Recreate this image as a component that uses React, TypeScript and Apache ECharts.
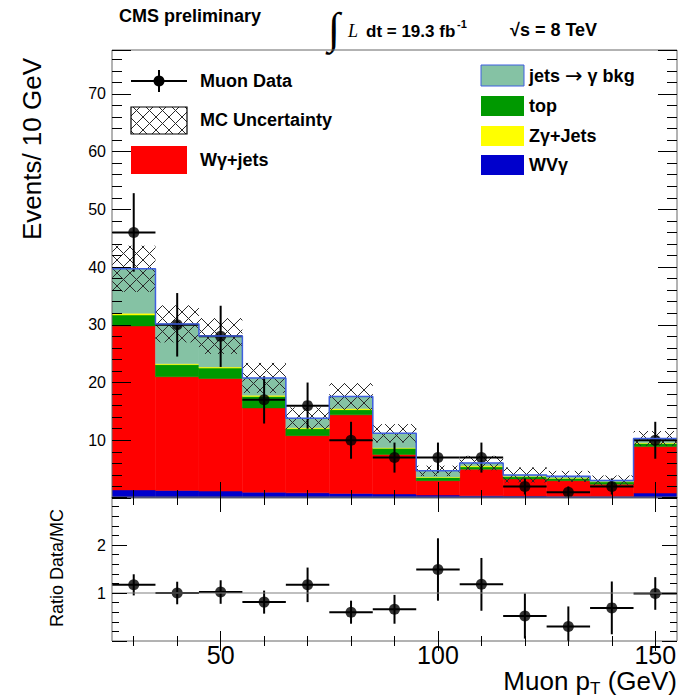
import React, { useEffect, useRef } from 'react';
import * as echarts from 'echarts';

const FONT = "'Liberation Sans', Arial, Helvetica, sans-serif";
const SERIF = "'Liberation Serif', 'Times New Roman', serif";
const SYMBOL_FONT = "'DejaVu Sans', sans-serif";

// ---- data ----
const binCenters = [30, 40, 50, 60, 70, 80, 90, 100, 110, 120, 130, 140, 150];
const binHalfWidth = 5;
const wvgamma = [1.4, 1.3, 1.2, 1.0, 0.9, 0.8, 0.7, 0.5, 0.4, 0.35, 0.3, 0.3, 0.85];
const wgammaJets = [28.4, 19.7, 19.5, 14.6, 9.9, 13.6, 6.85, 2.5, 4.6, 2.95, 2.7, 2.1, 8.05];
const topQuark = [1.9, 2.1, 1.8, 2.0, 1.2, 0.9, 1.05, 0.55, 0.4, 0.4, 0.4, 0.4, 0.55];
const zgammaJets = [0.3, 0.15, 0.2, 0.2, 0.15, 0.2, 0.1, 0.1, 0.2, 0.05, 0.05, 0.05, 0.1];
const jetsFakeBkg = [7.7, 6.9, 5.35, 3.0, 1.65, 2.1, 2.5, 1.05, 0.45, 0.25, 0.3, 0.2, 0.75];
const mcUncertainty = [4.0, 3.2, 3.1, 2.6, 1.9, 2.3, 1.6, 0.9, 1.25, 1.3, 0.95, 0.85, 1.3];
const muonData = [46, 30, 28, 17, 16, 10, 7, 7, 7, 2, 1, 2, 10];
const muonDataErr = [6.8, 5.5, 5.3, 4.1, 4.0, 3.2, 2.6, 2.6, 2.6, 1.4, 1.0, 1.4, 3.2];
const ratioValues = [1.17, 1.0, 1.02, 0.81, 1.17, 0.6, 0.66, 1.49, 1.18, 0.52, 0.3, 0.69, 0.99];
const ratioErr = [0.22, 0.235, 0.245, 0.24, 0.36, 0.24, 0.3, 0.65, 0.55, 0.47, 0.42, 0.55, 0.34];
const xTickLabels = [50, 100, 150];
const xMinorTicks = [30, 40, 50, 60, 70, 80, 90, 100, 110, 120, 130, 140, 150];
const mainYLabels = [10, 20, 30, 40, 50, 60, 70];
const ratioYLabels = [1, 2];

const X_MIN = 25;
const X_MAX = 155;
const Y_MAX = 77.6;
const R_MAX = 3;

const COLORS = {
  wvg: '#0000cc',
  wgj: '#ff0000',
  top: '#009900',
  zg: '#ffff00',
  jets: '#85c2a4',
  jetsLine: '#3f5fe0',
};

function hatchLines(x0: number, y0: number, x1: number, y1: number, s: number, style: any) {
  const out: any[] = [];
  for (let c = Math.floor((y0 - x1) / s) * s; c <= y1 - x0; c += s) {
    const xa = Math.max(x0, y0 - c);
    const xb = Math.min(x1, y1 - c);
    if (xb - xa > 0.5) out.push({ type: 'line', shape: { x1: xa, y1: xa + c, x2: xb, y2: xb + c }, style });
  }
  for (let c = Math.floor((x0 + y0) / s) * s; c <= x1 + y1; c += s) {
    const xa = Math.max(x0, c - y1);
    const xb = Math.min(x1, c - y0);
    if (xb - xa > 0.5) out.push({ type: 'line', shape: { x1: xa, y1: c - xa, x2: xb, y2: c - xb }, style });
  }
  return out;
}

const HATCH_STYLE = { stroke: '#2a2a2a', lineWidth: 1 };

export default function App() {
  const ref = useRef<HTMLDivElement>(null);

  useEffect(() => {
    document.body.style.margin = '0';
    const chart = echarts.init(ref.current!, null, { renderer: 'svg' });

    const components = [
      { values: wvgamma, color: COLORS.wvg },
      { values: wgammaJets, color: COLORS.wgj },
      { values: topQuark, color: COLORS.top },
      { values: zgammaJets, color: COLORS.zg },
      { values: jetsFakeBkg, color: COLORS.jets },
    ];
    const cum = binCenters.map(() => 0);
    const stackSeries: any[] = components.map((c) => {
      const data = binCenters.map((x, i) => {
        const lo = cum[i];
        cum[i] += c.values[i];
        return [x - binHalfWidth, x + binHalfWidth, lo, cum[i]];
      });
      return {
        type: 'custom',
        xAxisIndex: 0,
        yAxisIndex: 0,
        clip: true,
        silent: true,
        encode: { x: [0, 1], y: [2, 3] },
        data,
        renderItem: (params: any, api: any) => {
          const a = api.coord([api.value(0), api.value(3)]);
          const b = api.coord([api.value(1), api.value(2)]);
          return {
            type: 'rect',
            shape: { x: a[0], y: a[1], width: b[0] - a[0], height: b[1] - a[1] },
            style: { fill: c.color, stroke: c.color, lineWidth: 0.5 },
          };
        },
      };
    });
    const totals = cum.slice();

    const outline = binCenters.map((x, i) => [x - binHalfWidth, totals[i]]);
    outline.push([binCenters[binCenters.length - 1] + binHalfWidth, totals[totals.length - 1]]);

    const hatchData = binCenters.map((x, i) => [
      x - binHalfWidth,
      x + binHalfWidth,
      totals[i] - mcUncertainty[i],
      totals[i] + mcUncertainty[i],
    ]);

    const errRender = (params: any, api: any) => {
      const x = api.value(0);
      const y = api.value(1);
      const e = api.value(2);
      const hw = api.value(3);
      const l = api.coord([x - hw, y]);
      const r = api.coord([x + hw, y]);
      const t = api.coord([x, y + e]);
      const b = api.coord([x, y - e]);
      const st = { stroke: '#000', lineWidth: 2 };
      return {
        type: 'group',
        children: [
          { type: 'line', shape: { x1: l[0], y1: l[1], x2: r[0], y2: r[1] }, style: st },
          { type: 'line', shape: { x1: t[0], y1: t[1], x2: b[0], y2: b[1] }, style: st },
        ],
      };
    };

    const dataErr = binCenters.map((x, i) => [x, muonData[i], muonDataErr[i], binHalfWidth]);
    const dataPts = binCenters.map((x, i) => [x, muonData[i]]);
    const ratioErrData = binCenters.map((x, i) => [x, ratioValues[i], ratioErr[i], binHalfWidth]);
    const ratioPts = binCenters.map((x, i) => [x, ratioValues[i]]);

    const tickStyle = { color: '#000', width: 1 };
    const xAx = (gridIndex: number, position: string, ticks: number[], len: number, labels: boolean) => ({
      type: 'value',
      gridIndex,
      position,
      min: X_MIN,
      max: X_MAX,
      z: 10,
      axisLine: { show: false },
      splitLine: { show: false },
      axisTick: { show: true, inside: true, length: len, customValues: ticks, lineStyle: tickStyle },
      axisLabel: labels
        ? { show: true, customValues: xTickLabels, fontSize: 25, fontFamily: FONT, color: '#000', margin: 1 }
        : { show: false },
    });
    const yAx = (
      gridIndex: number,
      position: string,
      max: number,
      interval: number,
      len: number,
      labelVals: number[] | null,
    ) => ({
      type: 'value',
      gridIndex,
      position,
      min: 0,
      max,
      interval,
      z: 10,
      axisLine: { show: false },
      splitLine: { show: false },
      axisTick: { show: true, inside: true, length: len, lineStyle: tickStyle },
      axisLabel: labelVals
        ? {
            show: true,
            fontSize: 16,
            fontFamily: FONT,
            color: '#000',
            margin: 6,
            formatter: (v: number) => (labelVals.some((u) => Math.abs(u - v) < 1e-6) ? String(v) : ''),
          }
        : { show: false },
    });

    const legendStyle = (t: string) => ({
      text: t,
      fontFamily: FONT,
      fontWeight: 'bold',
      fontSize: 18,
      fill: '#000',
      align: 'left',
      verticalAlign: 'middle',
    });

    const graphics: any[] = [
      // header
      { type: 'text', x: 119, y: 16, style: { ...legendStyle('CMS preliminary') } },
      {
        type: 'text',
        x: 328,
        y: 28,
        style: { text: '∫', fontFamily: SERIF, fontSize: 44, fill: '#000', align: 'left', verticalAlign: 'middle' },
      },
      {
        type: 'text',
        x: 348,
        y: 31,
        style: { text: 'L', fontFamily: SERIF, fontStyle: 'italic', fontSize: 18, fill: '#000', align: 'left', verticalAlign: 'middle' },
      },
      { type: 'text', x: 366, y: 31, style: { ...legendStyle('dt = 19.3 fb'), fontSize: 17 } },
      {
        type: 'text',
        x: 457,
        y: 24,
        style: { text: '-1', fontFamily: FONT, fontWeight: 'bold', fontSize: 11, fill: '#000', align: 'left', verticalAlign: 'middle' },
      },
      { type: 'text', x: 510, y: 30, style: { ...legendStyle('√s = 8 TeV') } },
      // legend left
      { type: 'line', shape: { x1: 131, y1: 81, x2: 187, y2: 81 }, style: { stroke: '#000', lineWidth: 2 } },
      { type: 'line', shape: { x1: 159, y1: 70, x2: 159, y2: 92 }, style: { stroke: '#000', lineWidth: 2 } },
      { type: 'circle', shape: { cx: 159, cy: 81, r: 5.5 }, style: { fill: '#000' } },
      { type: 'text', x: 200, y: 81, style: legendStyle('Muon Data') },
      {
        type: 'group',
        children: [
          ...hatchLines(131, 107, 187, 134, 13, HATCH_STYLE),
          { type: 'rect', shape: { x: 131, y: 107, width: 56, height: 27 }, style: { fill: 'none', stroke: '#000', lineWidth: 1.2 } },
        ],
      },
      { type: 'text', x: 200, y: 120, style: legendStyle('MC Uncertainty') },
      { type: 'rect', shape: { x: 131, y: 146, width: 56, height: 28 }, style: { fill: COLORS.wgj } },
      { type: 'text', x: 200, y: 160, style: legendStyle('Wγ+jets') },
      // legend right
      { type: 'rect', shape: { x: 481, y: 65, width: 43, height: 21 }, style: { fill: COLORS.jets, stroke: COLORS.jetsLine, lineWidth: 1 } },
      {
        type: 'text',
        x: 529,
        y: 76,
        style: {
          ...legendStyle('jets {a|→} γ bkg'),
          rich: { a: { fontFamily: SYMBOL_FONT, fontWeight: 'normal', fontSize: 21, fill: '#000' } },
        },
      },
      { type: 'rect', shape: { x: 481, y: 96, width: 43, height: 20 }, style: { fill: COLORS.top } },
      { type: 'text', x: 529, y: 106, style: legendStyle('top') },
      { type: 'rect', shape: { x: 481, y: 126, width: 43, height: 20 }, style: { fill: COLORS.zg } },
      { type: 'text', x: 529, y: 136, style: legendStyle('Zγ+Jets') },
      { type: 'rect', shape: { x: 481, y: 155, width: 43, height: 20 }, style: { fill: COLORS.wvg } },
      { type: 'text', x: 529, y: 165, style: legendStyle('WVγ') },
      // axis titles
      {
        type: 'text',
        x: 32,
        y: 58,
        rotation: Math.PI / 2,
        style: { text: 'Events/ 10 GeV', fontFamily: FONT, fontSize: 26, fill: '#000', align: 'right', verticalAlign: 'middle' },
      },
      {
        type: 'text',
        x: 57,
        y: 568,
        rotation: Math.PI / 2,
        style: { text: 'Ratio Data/MC', fontFamily: FONT, fontSize: 18, fill: '#000', align: 'center', verticalAlign: 'middle' },
      },
      {
        type: 'text',
        x: 677,
        y: 681,
        style: {
          text: 'Muon p{s|T} (GeV)',
          fontFamily: FONT,
          fontSize: 26,
          fill: '#000',
          align: 'right',
          verticalAlign: 'middle',
          rich: { s: { fontFamily: FONT, fontSize: 17, fill: '#000', padding: [14, 0, 0, 0] } },
        },
      },
    ];

    const option: any = {
      animation: false,
      backgroundColor: '#fff',
      grid: [
        { left: 112, top: 50, width: 565, height: 448, show: true, z: 10, backgroundColor: 'transparent', borderColor: '#666', borderWidth: 1 },
        { left: 112, top: 497, width: 565, height: 144, show: true, z: 10, backgroundColor: 'transparent', borderColor: '#666', borderWidth: 1 },
      ],
      xAxis: [
        xAx(0, 'bottom', xMinorTicks, 8, false),
        xAx(0, 'bottom', xTickLabels, 16, false),
        xAx(0, 'top', xMinorTicks, 7, false),
        xAx(0, 'top', xTickLabels, 14, false),
        xAx(1, 'bottom', xMinorTicks, 5, false),
        xAx(1, 'bottom', xTickLabels, 10, true),
        xAx(1, 'top', xMinorTicks, 5, false),
        xAx(1, 'top', xTickLabels, 10, false),
      ],
      yAxis: [
        yAx(0, 'left', Y_MAX, 10, 19, mainYLabels),
        yAx(0, 'left', Y_MAX, 2, 10, null),
        yAx(0, 'right', Y_MAX, 10, 19, null),
        yAx(0, 'right', Y_MAX, 2, 10, null),
        yAx(1, 'left', R_MAX, 1, 15, ratioYLabels),
        yAx(1, 'left', R_MAX, 0.2, 7, null),
        yAx(1, 'right', R_MAX, 1, 15, null),
        yAx(1, 'right', R_MAX, 0.2, 7, null),
      ],
      series: [
        ...stackSeries,
        {
          type: 'line',
          xAxisIndex: 0,
          yAxisIndex: 0,
          step: 'end',
          symbol: 'none',
          silent: true,
          data: outline,
          lineStyle: { color: COLORS.jetsLine, width: 1.5 },
        },
        {
          type: 'custom',
          xAxisIndex: 0,
          yAxisIndex: 0,
          clip: true,
          silent: true,
          encode: { x: [0, 1], y: [2, 3] },
          data: hatchData,
          renderItem: (params: any, api: any) => {
            const a = api.coord([api.value(0), api.value(3)]);
            const b = api.coord([api.value(1), api.value(2)]);
            return { type: 'group', children: hatchLines(a[0], a[1], b[0], b[1], 13, HATCH_STYLE) };
          },
        },
        {
          type: 'custom',
          xAxisIndex: 0,
          yAxisIndex: 0,
          clip: true,
          silent: true,
          encode: { x: 0, y: 1 },
          data: dataErr,
          renderItem: errRender,
        },
        {
          type: 'scatter',
          xAxisIndex: 0,
          yAxisIndex: 0,
          symbol: 'circle',
          symbolSize: 11,
          silent: true,
          itemStyle: { color: '#000' },
          data: dataPts,
        },
        {
          type: 'line',
          xAxisIndex: 4,
          yAxisIndex: 4,
          symbol: 'none',
          silent: true,
          data: [
            [X_MIN, 1],
            [X_MAX, 1],
          ],
          lineStyle: { color: '#808080', width: 1.2 },
        },
        {
          type: 'custom',
          xAxisIndex: 4,
          yAxisIndex: 4,
          clip: true,
          silent: true,
          encode: { x: 0, y: 1 },
          data: ratioErrData,
          renderItem: errRender,
        },
        {
          type: 'scatter',
          xAxisIndex: 4,
          yAxisIndex: 4,
          symbol: 'circle',
          symbolSize: 11,
          silent: true,
          itemStyle: { color: '#000' },
          data: ratioPts,
        },
      ],
      graphic: graphics,
    };

    chart.setOption(option);
    return () => chart.dispose();
  }, []);

  return <div ref={ref} style={{ width: 684, height: 700, background: '#fff' }} />;
}
